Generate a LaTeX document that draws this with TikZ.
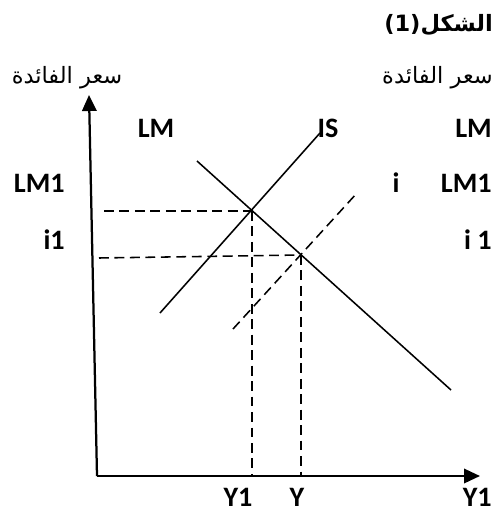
\documentclass[tikz,border=0pt]{standalone}
\usepackage{fontspec}
\setmainfont{Carlito}
\newfontfamily\arabicfont[Script=Arabic]{DejaVu Sans}
\TeXXeTstate=1
\usetikzlibrary{arrows.meta, positioning, calc}

\begin{document}
\begin{tikzpicture}[x=0.025cm, y=-0.025cm,
    lbl/.style={font=\fontsize{20}{24}\selectfont\bfseries, inner sep=0pt},
    arlbl/.style={font=\arabicfont\fontsize{16}{20}\selectfont, inner sep=0pt},
    axis/.style={line width=1.6pt, -{Triangle[length=0.4cm, width=0.36cm]}},
    curve/.style={line width=1.1pt},
    guide/.style={line width=1.1pt, dash pattern=on 7pt off 4pt}]
    \useasboundingbox (0,0) rectangle (502,513);
    % titles
    \node [arlbl, anchor=east, font=\arabicfont\fontsize{16}{20}\selectfont\bfseries] (title) at (493,25) {(1)\beginR الشكل\endR};
    \node [arlbl] (ylabL) at (67,78) {\beginR سعر الفائدة\endR};
    \node [arlbl, anchor=east] (ylabR) at (493,78) {\beginR سعر الفائدة\endR};
    % axes
    \coordinate (O) at (97,476);
    \coordinate (ytop) at (89,95);
    \coordinate (xend) at (480,476);
    \draw [axis] (O) -- (ytop);
    \draw [axis] (O) -- (xend);
    % curves
    \coordinate (isA) at (160,313);
    \coordinate (isB) at (320,133);
    \coordinate (ldA) at (197,161);
    \coordinate (ldB) at (451,390);
    \coordinate (lmA) at (233,329);
    \coordinate (lmB) at (357,193);
    \draw [curve] (isA) -- (isB);
    \draw [curve] (ldA) -- (ldB);
    \draw [guide] (lmA) -- (lmB);
    % equilibrium points
    \coordinate (E1) at (252,211);
    \coordinate (E2) at (301,255);
    \coordinate (h1) at (104,211);
    \coordinate (h2) at (99,258);
    \draw [guide] (h1) -- (E1);
    \draw [guide] (h2) -- (E2);
    \draw [guide] (E1) -- (E1 |- O);
    \draw [guide] (E2) -- (E2 |- O);
    % labels
    \node [lbl] (lm) at (156,128) {LM};
    \node [lbl] (is) at (328,128) {IS};
    \node [lbl, anchor=east] (lmR) at (492,128) {LM};
    \node [lbl, anchor=east] (lm1L) at (65,183) {LM1};
    \node [lbl] (i) at (396,183) {i};
    \node [lbl, anchor=east] (lm1R) at (492,183) {LM1};
    \node [lbl, anchor=east] (i1L) at (65,240) {i1};
    \node [lbl, anchor=east] (i1R) at (492,240) {i 1};
    \node [lbl] (y1) at (238,497) {Y1};
    \node [lbl] (y) at (297,497) {Y};
    \node [lbl, anchor=east] (y1R) at (492,497) {Y1};
\end{tikzpicture}
\end{document}
